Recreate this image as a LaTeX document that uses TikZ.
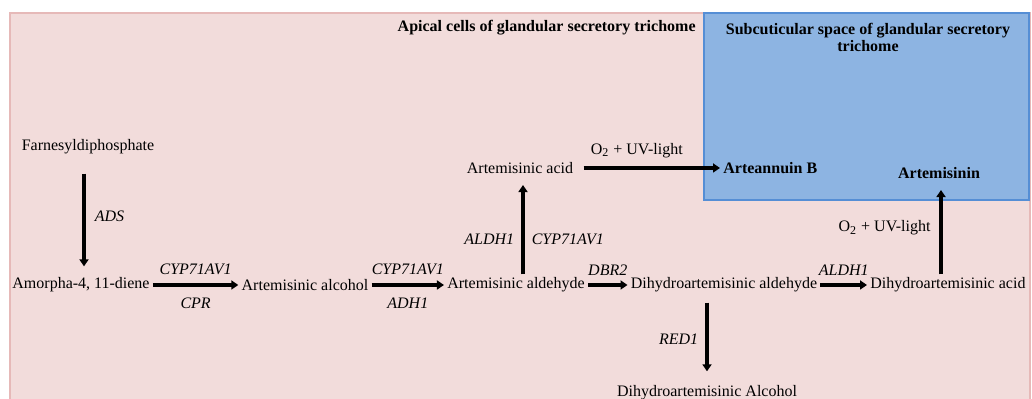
\documentclass[tikz,border=0pt]{standalone}
\usepackage{fontspec}
\setmainfont{Liberation Serif}
\definecolor{cellPink}{HTML}{F2DCDB}
\definecolor{cellPinkLine}{HTML}{E6B9B8}
\definecolor{spaceBlue}{HTML}{8DB4E2}
\definecolor{spaceBlueLine}{HTML}{558ED5}
\usetikzlibrary{arrows.meta}

\begin{document}
\begin{tikzpicture}[x=0.5pt, y=-0.5pt, font=\fontsize{8}{9.5}\selectfont,
  cpd/.style={inner sep=1.5pt},
  bcpd/.style={inner sep=1.5pt, font=\fontsize{8}{9.5}\selectfont\bfseries},
  enz/.style={inner sep=1.5pt, font=\fontsize{8}{9.5}\selectfont\itshape},
  rx/.style={line width=1.8pt, -{Triangle[length=3.5pt,width=4.5pt]}}]
\path[use as bounding box, clip] (0,0) rectangle (1032,399);
% compartments
\filldraw[fill=cellPink, draw=cellPinkLine, line width=1pt] (10,13) rectangle (1030,420);
\filldraw[fill=spaceBlue, draw=spaceBlueLine, line width=1pt] (704,13) rectangle (1029,200);
\node[bcpd, anchor=east] (apical) at (699,28) {Apical cells of glandular secretory trichome};
\node[bcpd, align=center, font=\fontsize{8}{8.5}\selectfont\bfseries] (subcut) at (868,37) {Subcuticular space of glandular secretory\\ trichome};
% compounds
\node[cpd] (fpp) at (88,147) {Farnesyldiphosphate};
\node[cpd] (amo) at (81,285) {Amorpha-4, 11-diene};
\node[cpd] (aal) at (305,285) {Artemisinic alcohol};
\node[cpd] (ald) at (516,285) {Artemisinic aldehyde};
\node[cpd] (aac) at (520,168) {Artemisinic acid};
\node[bcpd, anchor=west] (arb) at (720,168) {Arteannuin B};
\node[bcpd] (art) at (939,173) {Artemisinin};
\node[cpd] (dhald) at (724,285) {Dihydroartemisinic aldehyde};
\node[cpd, anchor=west] (dhacid) at (867,285) {Dihydroartemisinic acid};
\node[cpd] (dhalc) at (707,393) {Dihydroartemisinic Alcohol};
% reactions
\draw[rx, shorten <=8pt, shorten >=4pt] (fpp.south -| 84,0) -- (amo.north -| 84,0) node[enz, midway, right, xshift=3pt] {ADS};
\draw[rx] (amo) -- (aal) node[enz, midway, above=2.5pt] {CYP71AV1} node[enz, midway, below=4pt] {CPR};
\draw[rx] (aal) -- (ald) node[enz, midway, above=2.5pt] {CYP71AV1} node[enz, midway, below=4pt] {ADH1};
\draw[rx, shorten >=4pt] (ald.north -| 523,0) -- (aac.south -| 523,0) node[enz, pos=0.36, left, xshift=-2pt] {ALDH1} node[enz, pos=0.36, right, xshift=2pt] {CYP71AV1};
\draw[rx, shorten <=3.5pt] (aac) -- (arb) node[pos=0.42, above=1pt] {O\textsubscript{2} + UV-light};
\draw[rx] (ald) -- (dhald) node[enz, midway, above=2.5pt] {DBR2};
\draw[rx] (dhald) -- (dhacid) node[enz, midway, above=2.5pt] {ALDH1};
\draw[rx, shorten >=4pt] (dhacid.north -| 941,0) -- (art.south -| 941,0) node[midway, left, xshift=-1pt] {O\textsubscript{2} + UV-light};
\draw[rx, shorten <=3.5pt, shorten >=5.5pt] (dhald.south -| dhalc.north) -- (dhalc.north) node[enz, midway, left, xshift=-2pt] {RED1};
\end{tikzpicture}
\end{document}
